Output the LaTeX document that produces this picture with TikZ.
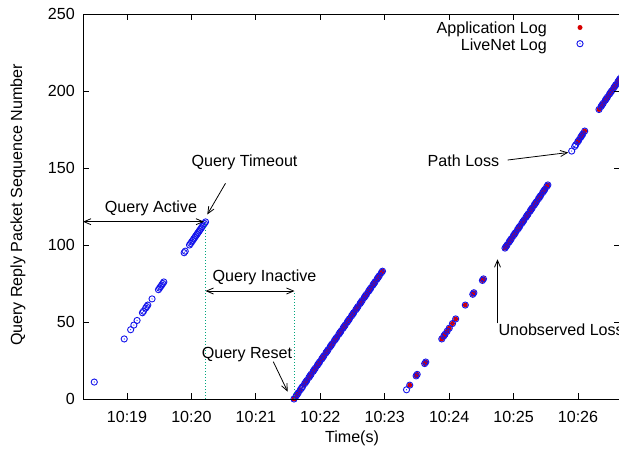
\documentclass[tikz,border=0pt]{standalone}
\usepackage{fontspec}
\setmainfont{Liberation Sans}
\usetikzlibrary{arrows.meta}
\definecolor{appred}{RGB}{215,0,0}
\definecolor{netblue}{RGB}{20,20,235}
\definecolor{guide}{RGB}{0,165,125}
\tikzset{
  lbl/.style={font=\fontsize{16.1}{18}\selectfont, inner sep=0pt},
  ann/.style={-{Straight Barb[length=7pt,width=6pt]}, line width=0.8pt},
  dbl/.style={{Straight Barb[length=7pt,width=6pt]}-{Straight Barb[length=7pt,width=6pt]}, line width=0.8pt},
  guidedot/.style={fill=guide, draw=none},
  frame/.style={line width=0.9pt, black},
}
\newcommand\appdot[2]{\fill[appred] ({#1},{#2}) circle (2.5pt);}
\newcommand\netring[2]{\draw[netblue, line width=0.9pt] ({#1},{#2}) circle (3.1pt); \fill[netblue] ({#1},{#2}) circle (0.6pt);}
\newcommand\netsparse[2]{\pgfmathtruncatemacro\mymod{mod(\v,4)}\ifnum\mymod=1 \else\netring{#1}{#2}\fi}
\begin{document}
\begin{tikzpicture}[x=1pt,y=-1pt]
\useasboundingbox (0,0) rectangle (619,448);
\fill[white] (0,0) rectangle (619,448);

% ---------- Application Log (red) ----------
\foreach \v in {0,...,6,9,10,...,83} {\appdot{294+1.066*\v}{399-1.54*\v}}
\foreach \v in {9,15,16,23,24,39,41,42,44,46,49,52,61,68,69,77,78} {\appdot{400.1+1.069*\v}{399-1.54*\v}}
\foreach \v in {98,...,139} {\appdot{505+1.045*(\v-98)}{399-1.54*\v}}
\foreach \v in {167,168,170,171,172,174} {\appdot{571.7+1.0*(\v-161)}{399-1.54*\v}}
\foreach \v in {188,...,212} {\appdot{599+1.05*(\v-188)}{399-1.54*\v}}

% ---------- LiveNet Log (blue) ----------
\foreach \v in {11,39,45,48,51,56,57,59,60,61,65,71,72,73,74,75,76,95,96,100,101,...,115} {\netring{82.5+1.07*\v}{399-1.54*\v}}
\foreach \v in {0,...,83} {\netsparse{294+1.066*\v}{399-1.54*\v}}
\foreach \v in {6,9,15,16,23,24,39,41,42,44,46,49,52,61,68,69,77,78} {\netring{400.1+1.069*\v}{399-1.54*\v}}
\foreach \v in {98,...,139} {\netsparse{505+1.045*(\v-98)}{399-1.54*\v}}
\foreach \v in {161,164,165,167,168,170,171,172,174} {\netring{571.7+1.0*(\v-161)}{399-1.54*\v}}
\foreach \v in {188,...,212} {\netsparse{599+1.05*(\v-188)}{399-1.54*\v}}

% ---------- frame and ticks ----------
\draw[frame] (83,14) rectangle (620,399);
\foreach \yv/\lab in {0/0,50/50,100/100,150/150,200/200,250/250} {
  \draw[frame] (83,{399-1.54*\yv}) -- ++(6,0);
  \draw[frame] (620,{399-1.54*\yv}) -- ++(-6,0);
  \node[lbl, anchor=east] (yt\lab) at (75,{399-1.54*\yv}) {\lab};
}
\foreach \i/\lab in {0/10:19,1/10:20,2/10:21,3/10:22,4/10:23,5/10:24,6/10:25,7/10:26} {
  \draw[frame] ({127+64.43*\i},399) -- ++(0,-6);
  \draw[frame] ({127+64.43*\i},14) -- ++(0,6);
  \node[lbl] (xt\i) at ({127+64.43*\i},416.7) {\lab};
}
\node[lbl, rotate=90] (ylab) at (18,205) {Query Reply Packet Sequence Number};
\node[lbl] (xlab) at (352,438) {Time(s)};

% ---------- legend ----------
\node[lbl, anchor=base east] (leg1) at (547,33.3) {Application Log};
\node[lbl, anchor=base east] (leg2) at (547,50) {LiveNet Log};
\appdot{580}{27.5}
\netring{580}{43.7}

% ---------- guides (dotted, teal) ----------
\foreach \yy in {224,227,...,398} {\path[guidedot] (204.8,\yy) rectangle (206.2,\yy+1.2);}
\foreach \yy in {293,296,...,398} {\path[guidedot] (293.8,\yy) rectangle (295.2,\yy+1.2);}
\coordinate (actL) at (83,221.7);
\coordinate (actR) at (204,221.7);
\coordinate (inaL) at (205.5,291);
\coordinate (inaR) at (294.5,291);
\draw[dbl] (actL) -- (actR);
\draw[dbl] (inaL) -- (inaR);

% ---------- annotations ----------
\node[lbl, anchor=base] (qactive) at (151,212.7) {Query Active};
\node[lbl, anchor=base] (qtimeout) at (244.5,166.7) {Query Timeout};
\node[lbl, anchor=base] (qinactive) at (264.5,281.5) {Query Inactive};
\node[lbl, anchor=base] (qreset) at (247,358.3) {Query Reset};
\node[lbl, anchor=base] (ploss) at (463.5,166) {Path Loss};
\node[lbl, anchor=base west] (uloss) at (498.3,335) {Unobserved Loss};

\coordinate (toS) at (225.5,183.3);
\coordinate (toE) at (207.3,214.5);
\coordinate (reS) at (273.3,361.7);
\coordinate (reE) at (287.7,391.7);
\coordinate (plS) at (507.7,160);
\coordinate (plE) at (568.3,152.5);
\coordinate (ulS) at (497.5,323.3);
\coordinate (ulE) at (497.5,259.3);
\draw[ann] (toS) -- (toE);
\draw[ann] (reS) -- (reE);
\draw[ann] (plS) -- (plE);
\draw[ann] (ulS) -- (ulE);
\end{tikzpicture}
\end{document}
